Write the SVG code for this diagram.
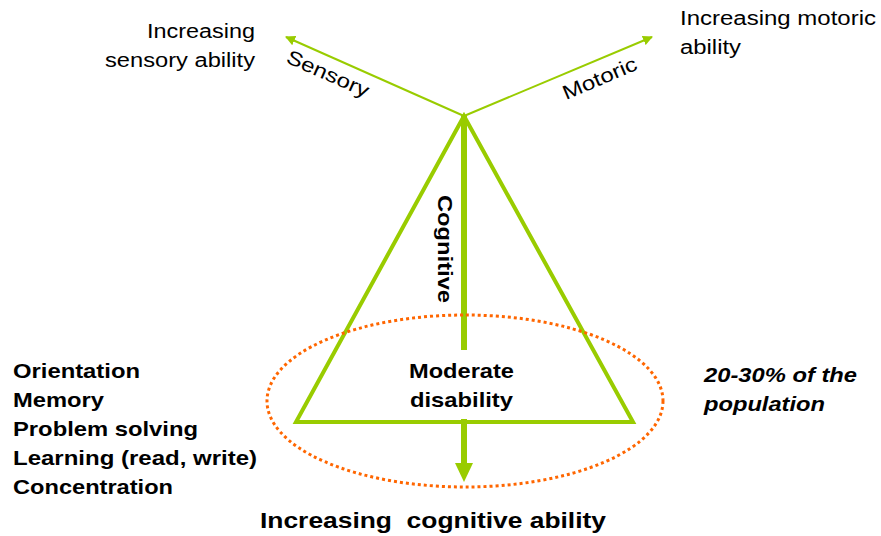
<svg xmlns="http://www.w3.org/2000/svg" width="881" height="536" viewBox="0 0 881 536">
<style>
.t{font-family:"Liberation Sans",Arial,sans-serif;fill:#000}
.b{font-weight:bold;font-size:21px}
.r{font-size:20px}
.g{stroke:#99CC00;fill:none}
</style>
<defs>
<marker id="ah" viewBox="0 0 10 10" refX="9" refY="5" markerWidth="5" markerHeight="5" orient="auto" markerUnits="strokeWidth">
<path d="M0,0 L10,5 L0,10 z" fill="#99CC00"/>
</marker>
</defs>
<rect width="881" height="536" fill="#fff"/>
<g id="connectors">
<line class="g" x1="464" y1="116" x2="286" y2="37" stroke-width="2" marker-end="url(#ah)"/>
<line class="g" x1="464" y1="116" x2="652" y2="37" stroke-width="2" marker-end="url(#ah)"/>
<line class="g" x1="464" y1="116" x2="464" y2="350" stroke-width="6"/>
<line class="g" x1="464" y1="419" x2="464" y2="465" stroke-width="6"/>
<path d="M455,463 L473,463 L464,482 z" fill="#99CC00"/>
</g>
<g id="triangle">
<path class="g" d="M464,116 L633,422 L296,422 z" stroke-width="4" stroke-linejoin="miter"/>
</g>
<g id="ellipse">
<ellipse cx="465" cy="401" rx="198" ry="86" fill="none" stroke="#FF6600" stroke-width="3" stroke-dasharray="3 3"/>
</g>
<g id="labels">
<text class="t r" x="147" y="38" textLength="108" lengthAdjust="spacingAndGlyphs">Increasing</text>
<text class="t r" x="105" y="67" textLength="150" lengthAdjust="spacingAndGlyphs">sensory ability</text>
<text class="t r" x="680" y="25" textLength="196" lengthAdjust="spacingAndGlyphs">Increasing motoric</text>
<text class="t r" x="680" y="54" textLength="61" lengthAdjust="spacingAndGlyphs">ability</text>
<text class="t r" transform="translate(285,62) rotate(24)" textLength="88" lengthAdjust="spacingAndGlyphs">Sensory</text>
<text class="t r" transform="translate(566,100) rotate(-23)" textLength="79" lengthAdjust="spacingAndGlyphs">Motoric</text>
<text class="t b" transform="translate(438,195) rotate(90)" textLength="108" lengthAdjust="spacingAndGlyphs">Cognitive</text>
<text class="t b" x="409" y="378" textLength="105" lengthAdjust="spacingAndGlyphs">Moderate</text>
<text class="t b" x="410" y="407" textLength="103" lengthAdjust="spacingAndGlyphs">disability</text>
<text class="t b" x="13" y="378" textLength="127" lengthAdjust="spacingAndGlyphs">Orientation</text>
<text class="t b" x="13" y="407" textLength="91" lengthAdjust="spacingAndGlyphs">Memory</text>
<text class="t b" x="13" y="436" textLength="185" lengthAdjust="spacingAndGlyphs">Problem solving</text>
<text class="t b" x="13" y="465" textLength="244" lengthAdjust="spacingAndGlyphs">Learning (read, write)</text>
<text class="t b" x="13" y="494" textLength="160" lengthAdjust="spacingAndGlyphs">Concentration</text>
<text class="t b" x="704" y="382" font-style="italic" textLength="153" lengthAdjust="spacingAndGlyphs">20-30% of the</text>
<text class="t b" x="704" y="411" font-style="italic" textLength="121" lengthAdjust="spacingAndGlyphs">population</text>
<text class="t" x="260" y="528" font-weight="bold" font-size="22" xml:space="preserve" textLength="346" lengthAdjust="spacingAndGlyphs">Increasing  cognitive ability</text>
</g>
</svg>
